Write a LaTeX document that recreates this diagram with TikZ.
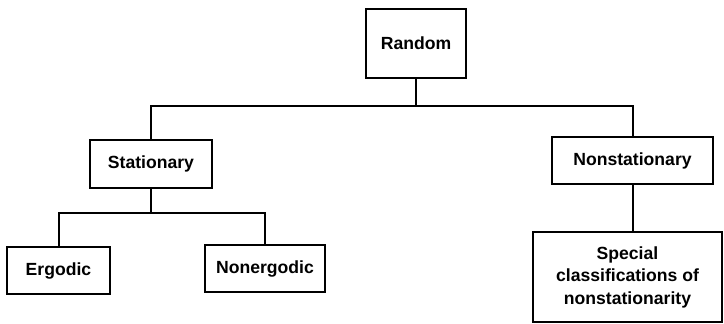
\documentclass[tikz,border=0pt]{standalone}
\usepackage{fontspec}
\setmainfont{Liberation Sans}
\begin{document}
\begin{tikzpicture}[x=1pt,y=-1pt,
  box/.style={draw,line width=2pt,rectangle,inner sep=0pt,font=\fontsize{17.6}{22.5}\selectfont\bfseries,align=center},
  conn/.style={line width=2pt}]
\useasboundingbox (0,0) rectangle (724,324);
\node[box,minimum width=100pt,minimum height=69pt] (random) at (416,43.5) {Random};
\node[box,minimum width=122pt,minimum height=48pt] (stat) at (151,164) {Stationary};
\node[box,minimum width=161pt,minimum height=47pt] (nonstat) at (632.5,160.5) {Nonstationary};
\node[box,minimum width=103pt,minimum height=47pt] (erg) at (58.5,270.5) {Ergodic};
\node[box,minimum width=120pt,minimum height=47pt] (nonerg) at (265,268.5) {Nonergodic};
\node[box,minimum width=189pt,minimum height=90pt] (special) at (627.5,277) {Special\\classifications of\\nonstationarity};
\coordinate (j1) at (416,106);
\coordinate (j2) at (151,213);
\draw[conn] (random.south) -- (j1);
\draw[conn] (j1) -| (stat.north);
\draw[conn] (j1) -| (nonstat.north);
\draw[conn] (stat.south) -- (j2);
\draw[conn] (j2) -| (erg.north);
\draw[conn] (j2) -| (nonerg.north);
\draw[conn] (nonstat.south) -- (nonstat.south |- special.north);
\end{tikzpicture}
\end{document}
